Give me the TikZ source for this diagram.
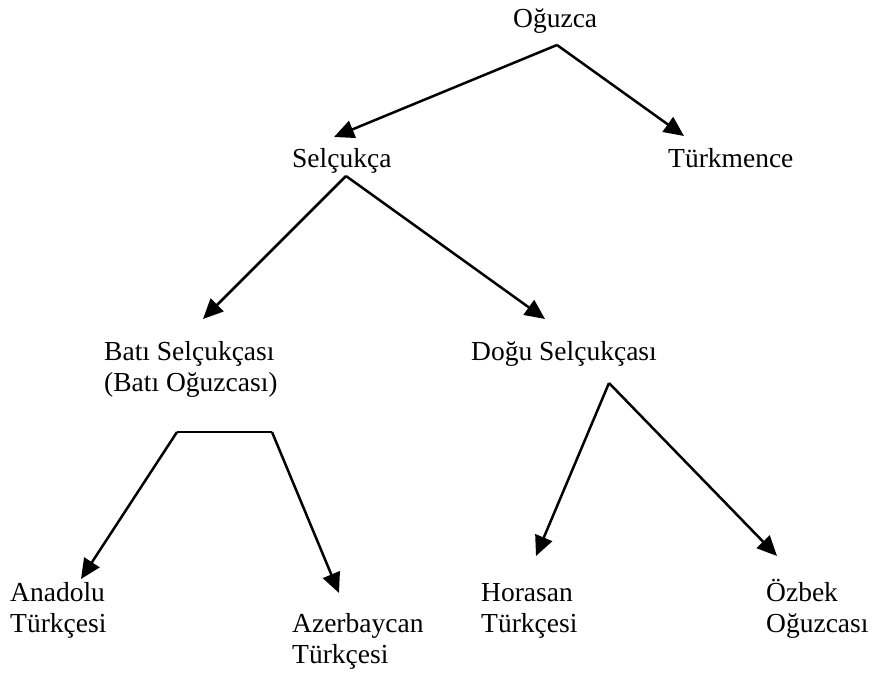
\documentclass[tikz,border=0pt]{standalone}
\usepackage{fontspec}
\setmainfont{Liberation Serif}
\usetikzlibrary{arrows.meta}
\begin{document}
\begin{tikzpicture}[x=1pt,y=-1pt,
  lbl/.style={anchor=base west,inner sep=0pt,align=left,
    font=\fontsize{27.5}{31}\selectfont},
  arr/.style={line width=2.5pt,-{Triangle[length=20pt,width=18pt]}},
  ln/.style={line width=2.5pt}]
\useasboundingbox (0,0) rectangle (875,678);
% texts (anchor = baseline of last line)
\node[lbl] (oguzca) at (513,27) {Oğuzca};
\node[lbl] (selcukca) at (292,167) {Selçukça};
\node[lbl] (turkmence) at (668,167) {Türkmence};
\node[lbl] (bati) at (104,391) {Batı Selçukçası\\(Batı Oğuzcası)};
\node[lbl] (dogu) at (471,360) {Doğu Selçukçası};
\node[lbl] (anadolu) at (10,632) {Anadolu\\Türkçesi};
\node[lbl] (azer) at (292,663) {Azerbaycan\\Türkçesi};
\node[lbl] (horasan) at (481,632) {Horasan\\Türkçesi};
\node[lbl] (ozbek) at (766,632) {Özbek\\Oğuzcası};
% junctions and tips
\coordinate (oJ) at (557,45);
\coordinate (selT) at (334,137);
\coordinate (turT) at (684,136);
\coordinate (sJ) at (346,176);
\coordinate (batiT) at (203,319);
\coordinate (doguT) at (545,319);
\coordinate (bL) at (177,432);
\coordinate (bR) at (272,432);
\coordinate (anaT) at (81,579);
\coordinate (azeT) at (339,593);
\coordinate (dJ) at (609,383);
\coordinate (horT) at (536,556);
\coordinate (ozbT) at (777,556);
% connectors
\draw[arr] (oJ) -- (selT);
\draw[arr] (oJ) -- (turT);
\draw[arr] (sJ) -- (batiT);
\draw[arr] (sJ) -- (doguT);
\draw[ln] (bL) -- (bR);
\draw[arr] (bL) -- (anaT);
\draw[arr] (bR) -- (azeT);
\draw[arr] (dJ) -- (horT);
\draw[arr] (dJ) -- (ozbT);
\end{tikzpicture}
\end{document}
